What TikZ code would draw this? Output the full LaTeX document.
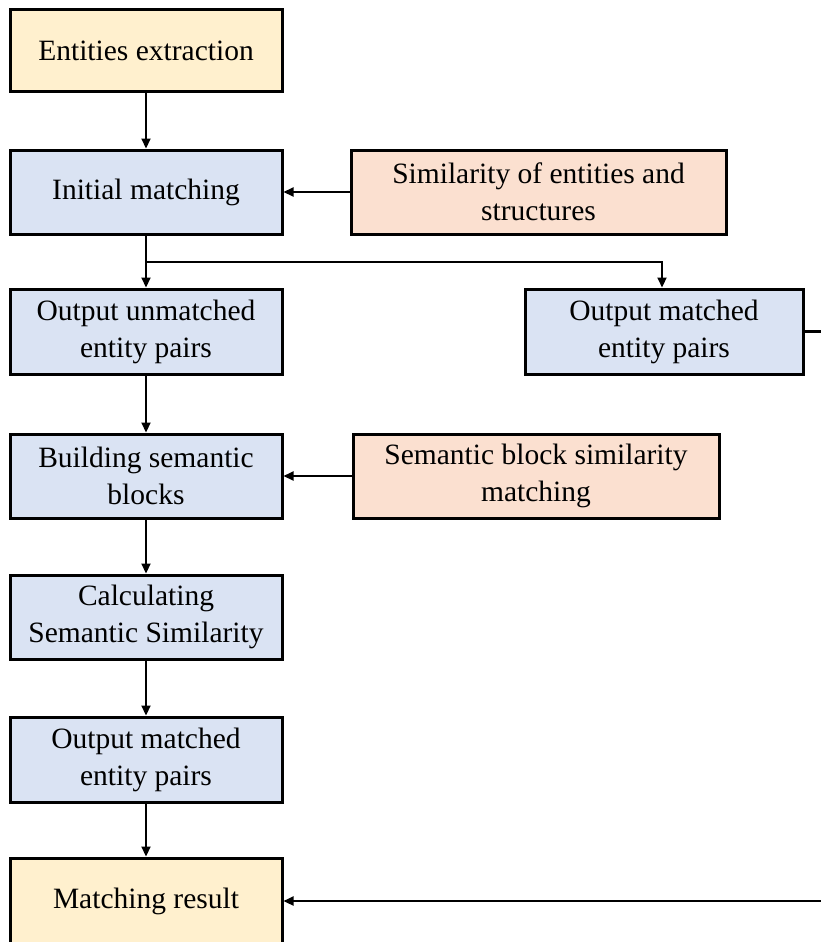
\documentclass[tikz,border=0pt]{standalone}
\usepackage{fontspec}
\setmainfont{Liberation Serif}
\usetikzlibrary{arrows.meta}
\definecolor{boxyellow}{HTML}{FFF0CE}
\definecolor{boxblue}{HTML}{DAE3F3}
\definecolor{boxpeach}{HTML}{FBE0D0}
\tikzset{
  flowbox/.style={draw=black, line width=3pt, inner sep=0pt, align=center,
    font=\fontsize{29.5}{37}\selectfont},
  leftbox/.style={flowbox, minimum width=272pt, minimum height=84pt},
  endbox/.style={leftbox, fill=boxyellow},
  stepbox/.style={leftbox, fill=boxblue},
  sidebox/.style={flowbox, fill=boxpeach, minimum height=84pt},
  flow/.style={line width=2.2pt, -{Triangle[length=10pt,width=9pt]}},
}
\begin{document}
\begin{tikzpicture}[x=1pt, y=-1pt]
  \useasboundingbox (0,0) rectangle (821,942);
  \clip (0,0) rectangle (821,942);

  % main column
  \node[endbox, minimum height=81pt] (extract) at (146,50.5) {Entities extraction};
  \node[stepbox] (initial) at (146,192) {Initial matching};
  \node[stepbox, minimum height=85pt] (unmatched) at (146,331.5) {Output unmatched\\entity pairs};
  \node[stepbox] (blocks) at (146,476) {Building semantic\\blocks};
  \node[stepbox] (calc) at (146,617) {Calculating\\Semantic Similarity};
  \node[stepbox, minimum height=85pt] (outpairs) at (146,759.5) {Output matched\\entity pairs};
  \node[endbox, minimum height=86pt] (result) at (146,901) {Matching result};

  % side inputs and branch
  \node[sidebox, minimum width=375pt] (simstruct) at (538.5,192) {Similarity of entities and\\structures};
  \node[stepbox, minimum width=278pt, minimum height=85pt] (matched) at (664,331.5) {Output matched\\entity pairs};
  \node[sidebox, minimum width=366pt] (semsim) at (536,476) {Semantic block similarity\\matching};

  \coordinate (split) at (146,262);
  \coordinate (farright) at (834,331.5);

  % connectors
  \draw[flow] (extract) -- (initial);
  \draw[flow] (simstruct) -- (initial);
  \draw[flow] (initial) -- (unmatched);
  \draw[flow] (split) -| ([xshift=-2pt]matched.north);
  \draw[flow] (unmatched) -- (blocks);
  \draw[flow] (semsim) -- (blocks);
  \draw[flow] (blocks) -- (calc);
  \draw[flow] (calc) -- (outpairs);
  \draw[flow] (outpairs) -- (result);
  \draw[flow] (matched.east) -- (farright) |- (result.east);
\end{tikzpicture}
\end{document}
